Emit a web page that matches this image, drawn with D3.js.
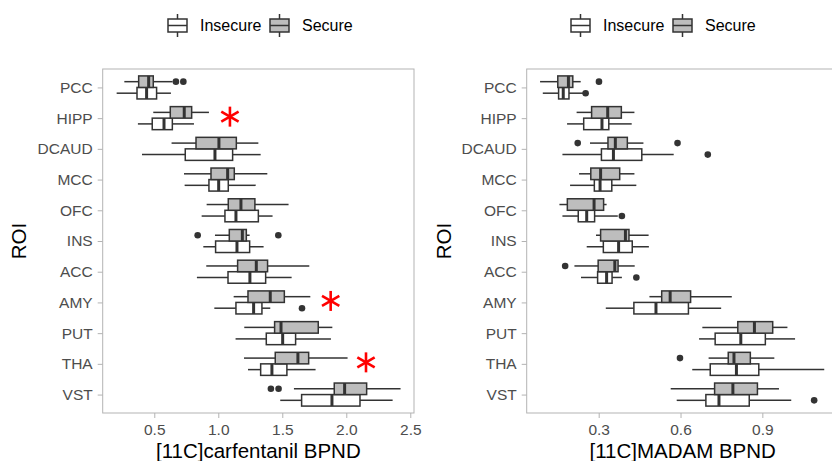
<!DOCTYPE html>
<html><head><meta charset="utf-8">
<script src="https://cdn.jsdelivr.net/npm/d3@7"></script>
<style>
body{margin:0;background:#fff}
svg{display:block;font-family:"Liberation Sans",Arial,Helvetica,sans-serif}
</style>
</head><body>
<svg id="chart" width="832" height="461"></svg>
<script>
const rois = ["PCC","HIPP","DCAUD","MCC","OFC","INS","ACC","AMY","PUT","THA","VST"];
const groups = ["Insecure","Secure"];
// each row: [lower whisker, Q1, median, Q3, upper whisker]
const carfSecure = [
  [0.266,0.378,0.456,0.492,0.643],[0.492,0.625,0.734,0.792,0.927],[0.635,0.826,1.005,1.141,1.313],
  [0.732,0.943,1.073,1.125,1.383],[0.909,1.078,1.177,1.286,1.549],[0.974,1.086,1.188,1.219,1.245],
  [0.906,1.151,1.297,1.385,1.711],[1.120,1.232,1.406,1.516,1.719],[1.203,1.440,1.490,1.781,1.891],
  [1.201,1.445,1.622,1.706,2.010],[1.591,1.906,1.987,2.159,2.424]];
const carfInsecure = [
  [0.206,0.365,0.440,0.518,0.630],[0.372,0.484,0.576,0.641,0.810],[0.404,0.742,0.974,1.112,1.331],
  [0.737,0.927,1.003,1.078,1.292],[0.870,1.052,1.138,1.313,1.424],[0.883,0.979,1.146,1.245,1.354],
  [0.833,1.076,1.247,1.370,1.573],[0.969,1.138,1.276,1.341,1.406],[1.135,1.375,1.503,1.604,1.880],
  [1.232,1.331,1.419,1.536,1.760],[1.484,1.651,1.888,2.107,2.362]];
const carfOutliers = [
  {roi:"PCC",group:"Secure",value:0.669},{roi:"PCC",group:"Secure",value:0.727},
  {roi:"INS",group:"Secure",value:0.839},{roi:"INS",group:"Secure",value:1.469},
  {roi:"AMY",group:"Insecure",value:1.654},
  {roi:"VST",group:"Secure",value:1.411},{roi:"VST",group:"Secure",value:1.471}];
const carfStars = [{roi:"HIPP",value:1.091},{roi:"AMY",value:1.878},{roi:"THA",value:2.154}];
const carfTicks = [0.5,1.0,1.5,2.0,2.5];

const madamSecure = [
  [0.085,0.150,0.189,0.205,0.234],[0.219,0.274,0.333,0.383,0.431],[0.268,0.334,0.361,0.405,0.464],
  [0.228,0.271,0.307,0.377,0.431],[0.156,0.185,0.283,0.318,0.329],[0.290,0.307,0.398,0.411,0.483],
  [0.211,0.298,0.359,0.371,0.432],[0.486,0.531,0.562,0.637,0.788],[0.680,0.810,0.871,0.938,0.992],
  [0.703,0.775,0.796,0.856,0.944],[0.564,0.725,0.792,0.882,0.961]];
const madamInsecure = [
  [0.095,0.153,0.170,0.191,0.245],[0.184,0.245,0.312,0.337,0.421],[0.167,0.310,0.354,0.458,0.575],
  [0.195,0.284,0.305,0.348,0.438],[0.167,0.225,0.256,0.285,0.370],[0.256,0.317,0.373,0.423,0.484],
  [0.235,0.296,0.329,0.349,0.385],[0.326,0.429,0.510,0.629,0.749],[0.668,0.727,0.821,0.911,1.020],
  [0.643,0.709,0.805,0.887,1.127],[0.586,0.693,0.741,0.852,1.006]];
const madamOutliers = [
  {roi:"PCC",group:"Secure",value:0.301},{roi:"PCC",group:"Insecure",value:0.252},
  {roi:"DCAUD",group:"Secure",value:0.223},{roi:"DCAUD",group:"Secure",value:0.589},
  {roi:"DCAUD",group:"Insecure",value:0.700},{roi:"OFC",group:"Insecure",value:0.385},
  {roi:"ACC",group:"Secure",value:0.177},{roi:"ACC",group:"Insecure",value:0.438},
  {roi:"THA",group:"Secure",value:0.598},{roi:"VST",group:"Insecure",value:1.090}];
const madamStars = [];
const madamTicks = [0.3,0.6,0.9];

const fills = {Insecure:"#ffffff", Secure:"#bdbdbd"};
const dark = "#333333", grid = "#b3b3b3", tickText = "#4d4d4d";
const svg = d3.select("#chart");

function panel(cfg){
  const g = svg.append("g");
  const x = d3.scaleLinear().domain(cfg.domain).range([cfg.left, cfg.right]);
  const y = d3.scalePoint().domain(rois).range([69, 413]).padding(0.6);
  const half = y.step()*0.1875;
  const off = {Insecure: half, Secure: -half};
  g.append("rect").attr("x",cfg.left).attr("y",69).attr("width",cfg.right-cfg.left).attr("height",344)
    .attr("fill","none").attr("stroke",grid).attr("stroke-width",1);
  const xa = g.append("g").attr("transform","translate(0,413)")
    .call(d3.axisBottom(x).tickValues(cfg.ticks).tickSize(5).tickFormat(d3.format(".1f")));
  xa.select(".domain").remove();
  xa.selectAll("line").attr("stroke",grid);
  xa.selectAll("text").attr("fill",tickText).attr("font-size",15.5).attr("dy","0.93em")
    .attr("font-family","Liberation Sans, Arial, sans-serif");
  const ya = g.append("g").attr("transform",`translate(${cfg.left},0)`)
    .call(d3.axisLeft(y).tickSize(5).tickPadding(5));
  ya.select(".domain").remove();
  ya.selectAll("line").attr("stroke",grid);
  ya.selectAll("text").attr("fill",tickText).attr("font-size",15.5)
    .attr("font-family","Liberation Sans, Arial, sans-serif");
  g.append("text").attr("x",(cfg.left+cfg.right)/2).attr("y",458).attr("text-anchor","middle")
    .attr("font-size",20.5).attr("fill","#000").text(cfg.xtitle);
  g.append("text").attr("transform",`translate(${cfg.roiX},241) rotate(-90)`).attr("text-anchor","middle")
    .attr("font-size",20.5).attr("fill","#000").text("ROI");
  const rows = [];
  rois.forEach((r,i)=>{
    rows.push({roi:r,group:"Insecure",s:cfg.insecure[i]});
    rows.push({roi:r,group:"Secure",s:cfg.secure[i]});
  });
  const bg = g.append("g");
  rows.forEach(d=>{
    const cy = y(d.roi)+off[d.group];
    const [lo,q1,md,q3,hi] = d.s;
    bg.append("line").attr("x1",x(lo)).attr("x2",x(q1)).attr("y1",cy).attr("y2",cy)
      .attr("stroke",dark).attr("stroke-width",1.5);
    bg.append("line").attr("x1",x(q3)).attr("x2",x(hi)).attr("y1",cy).attr("y2",cy)
      .attr("stroke",dark).attr("stroke-width",1.5);
    bg.append("rect").attr("x",x(q1)).attr("y",cy-half).attr("width",x(q3)-x(q1)).attr("height",2*half)
      .attr("fill",fills[d.group]).attr("stroke",dark).attr("stroke-width",1.5);
    bg.append("line").attr("x1",x(md)).attr("x2",x(md)).attr("y1",cy-half).attr("y2",cy+half)
      .attr("stroke",dark).attr("stroke-width",3);
  });
  g.append("g").selectAll("circle").data(cfg.outliers).join("circle")
    .attr("cx",d=>x(d.value)).attr("cy",d=>y(d.roi)+off[d.group]).attr("r",3.3).attr("fill",dark);
  const sg = g.append("g");
  cfg.stars.forEach(s=>{
    const cx = x(s.value), cy = y(s.roi)-1.5, r = 10;
    [90,30,150].forEach(a=>{
      const rad = a*Math.PI/180;
      sg.append("line").attr("x1",cx-r*Math.cos(rad)).attr("x2",cx+r*Math.cos(rad))
        .attr("y1",cy-r*Math.sin(rad)).attr("y2",cy+r*Math.sin(rad))
        .attr("stroke","#ff0000").attr("stroke-width",2.6);
    });
  });
  const lg = g.append("g");
  groups.forEach((grp,i)=>{
    const kx = cfg.legendX + i*102;
    lg.append("line").attr("x1",kx+9.5).attr("x2",kx+9.5).attr("y1",14).attr("y2",37)
      .attr("stroke",dark).attr("stroke-width",1.5);
    lg.append("rect").attr("x",kx).attr("y",19).attr("width",19).attr("height",13)
      .attr("fill",fills[grp]).attr("stroke",dark).attr("stroke-width",1.5);
    lg.append("line").attr("x1",kx).attr("x2",kx+19).attr("y1",25.5).attr("y2",25.5)
      .attr("stroke",dark).attr("stroke-width",1.5);
    lg.append("text").attr("x",kx+32).attr("y",31).attr("font-size",16).attr("fill","#000").text(grp);
  });
}

panel({left:102.7,right:414,domain:[0.097,2.529],ticks:carfTicks,secure:carfSecure,insecure:carfInsecure,
  outliers:carfOutliers,stars:carfStars,xtitle:"[11C]carfentanil BPND",roiX:26,legendX:168});
panel({left:526.7,right:838.7,domain:[0.036,1.180],ticks:madamTicks,secure:madamSecure,insecure:madamInsecure,
  outliers:madamOutliers,stars:madamStars,xtitle:"[11C]MADAM BPND",roiX:451,legendX:571});
</script>
</body></html>
